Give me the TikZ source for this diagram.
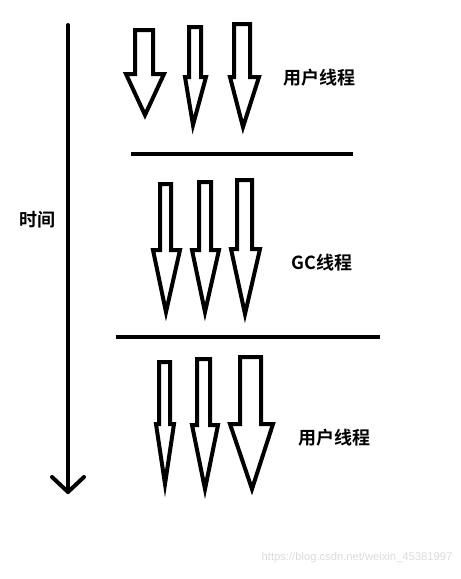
\documentclass[tikz,border=0pt]{standalone}
\usepackage{fontspec}
\newfontfamily\cjk{Noto Sans CJK SC}[BoldFont={* Bold}]
\setsansfont{Liberation Sans}
\tikzset{
  blockarrow/.style={draw=black, line width=3pt, line join=miter, fill=white},
  axisline/.style={draw=black, line width=3pt, line cap=round, line join=round},
  sepline/.style={draw=black, line width=2.6pt},
  lbl/.style={font=\cjk\bfseries\fontsize{13.5}{16}\selectfont, inner sep=0pt},
  wmark/.style={font=\sffamily\fontsize{8.4}{10}\selectfont, text=black!14, inner sep=0pt}
}
% #1 shaft left, #2 shaft right, #3 top, #4 head y, #5 wing left, #6 wing right, #7 tip x, #8 tip y
\newcommand{\blkarrow}[8]{%
  \draw[blockarrow] (#1,#3) -- (#2,#3) -- (#2,#4) -- (#6,#4) -- (#7,#8) -- (#5,#4) -- (#1,#4) -- cycle;}
\begin{document}
\begin{tikzpicture}[x=0.75pt,y=-0.75pt]
\useasboundingbox (0,0) rectangle (461,579);
% time axis
\coordinate (ttop) at (68,25);
\coordinate (tbot) at (68,492);
\coordinate (tl) at (52,477);
\coordinate (tr) at (84,477);
\draw[axisline] (ttop) -- (tbot);
\draw[axisline] (tl) -- (tbot) -- (tr);
\node[lbl] (time) at (38,220) {时间};
% separators
\coordinate (s1a) at (131,154); \coordinate (s1b) at (353,154);
\coordinate (s2a) at (116,337); \coordinate (s2b) at (380,337);
\draw[sepline] (s1a) -- (s1b);
\draw[sepline] (s2a) -- (s2b);
% group 1
\blkarrow{135}{153}{30}{74}{126}{164}{145}{115}
\blkarrow{189}{201}{27}{77}{185}{206}{193}{125}
\blkarrow{234}{250}{24}{77}{230}{259}{243}{127}
\node[lbl] (u1) at (319,78) {用户线程};
% group 2
\blkarrow{160}{171}{184}{250}{153}{180}{166}{312}
\blkarrow{199}{211}{182}{250}{192}{219}{205}{312}
\blkarrow{237}{252}{180}{249}{231}{260}{245}{314}
\node[lbl] (gc) at (322,263) {GC线程};
% group 3
\blkarrow{159}{170}{362}{424}{156}{174}{165}{484}
\blkarrow{197}{210}{359}{425}{192}{218}{205}{489}
\blkarrow{240}{261}{357}{424}{230}{273}{252}{489}
\node[lbl] (u2) at (334,438) {用户线程};
% watermark
\node[wmark] (wm) at (357,558) {https://blog.csdn.net/weixin\_45381997};
\end{tikzpicture}
\end{document}
